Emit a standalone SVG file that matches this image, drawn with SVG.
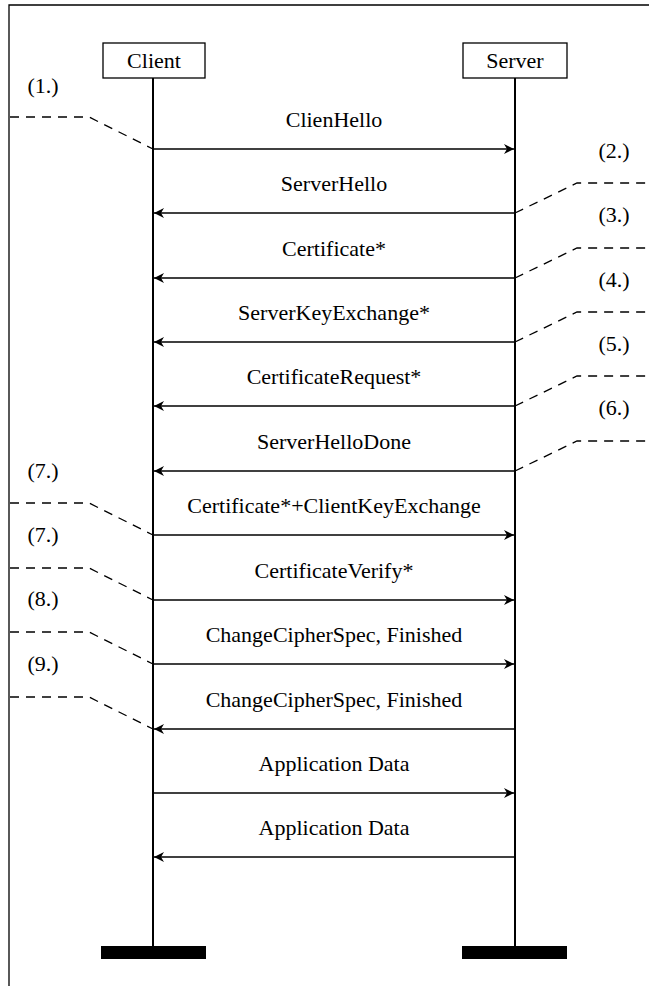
<svg xmlns="http://www.w3.org/2000/svg" width="649" height="986" viewBox="0 0 649 986">
  <style>
    text { font-family: "Liberation Serif", "DejaVu Serif", serif; font-size: 22px; fill: #000; }
    .msg { text-anchor: middle; }
    .num { text-anchor: middle; }
    .box { fill: #fff; stroke: #000; stroke-width: 1.3; }
    .life { stroke: #000; stroke-width: 2; fill: none; }
    .arrow { stroke: #000; stroke-width: 1.4; fill: none; marker-end: url(#head); }
    .lead { stroke: #000; stroke-width: 1.3; fill: none; stroke-dasharray: 9 7; }
    .frame { stroke: #000; stroke-width: 1.3; fill: none; }
  </style>
  <defs>
    <marker id="head" viewBox="0 0 10 10" refX="10" refY="5" markerWidth="10" markerHeight="10" markerUnits="userSpaceOnUse" orient="auto">
      <path d="M0,0 L10,5 L0,10 L3,5 Z" fill="#000"/>
    </marker>
  </defs>
  <rect width="649" height="986" fill="#fff"/>

  <!-- outer frame (top and left edges) -->
  <path class="frame" d="M9,986 V5 H649"/>

  <!-- participants -->
  <g id="client">
    <line class="life" x1="153" y1="78" x2="153" y2="946"/>
    <rect class="box" x="103" y="43" width="102" height="35"/>
    <text class="msg" x="154" y="68">Client</text>
    <rect x="101" y="946" width="105" height="13" fill="#000"/>
  </g>
  <g id="server">
    <line class="life" x1="515" y1="78" x2="515" y2="946"/>
    <rect class="box" x="463" y="43" width="104" height="35"/>
    <text class="msg" x="515" y="68">Server</text>
    <rect x="462" y="946" width="105" height="13" fill="#000"/>
  </g>

  <!-- messages -->
  <g id="connectors">
    <line class="arrow" x1="154" y1="149" x2="514" y2="149"/>
    <line class="arrow" x1="514" y1="213" x2="154" y2="213"/>
    <line class="arrow" x1="514" y1="278" x2="154" y2="278"/>
    <line class="arrow" x1="514" y1="342" x2="154" y2="342"/>
    <line class="arrow" x1="514" y1="406" x2="154" y2="406"/>
    <line class="arrow" x1="514" y1="471" x2="154" y2="471"/>
    <line class="arrow" x1="154" y1="535" x2="514" y2="535"/>
    <line class="arrow" x1="154" y1="600" x2="514" y2="600"/>
    <line class="arrow" x1="154" y1="664" x2="514" y2="664"/>
    <line class="arrow" x1="514" y1="729" x2="154" y2="729"/>
    <line class="arrow" x1="154" y1="793" x2="514" y2="793"/>
    <line class="arrow" x1="514" y1="857" x2="154" y2="857"/>

    <!-- dashed step leaders -->
    <path class="lead" d="M10,117 H89 L153,149"/>
    <path class="lead" d="M515,213 L577,183 H649"/>
    <path class="lead" d="M515,278 L577,248 H649"/>
    <path class="lead" d="M515,342 L577,312 H649"/>
    <path class="lead" d="M515,406 L577,376 H649"/>
    <path class="lead" d="M515,471 L577,441 H649"/>
    <path class="lead" d="M10,503 H89 L153,535"/>
    <path class="lead" d="M10,568 H89 L153,600"/>
    <path class="lead" d="M10,632 H89 L153,664"/>
    <path class="lead" d="M10,697 H89 L153,729"/>
  </g>

  <!-- message labels -->
  <g id="labels">
    <text class="msg" x="334" y="127">ClienHello</text>
    <text class="msg" x="334" y="191">ServerHello</text>
    <text class="msg" x="334" y="256">Certificate*</text>
    <text class="msg" x="334" y="320">ServerKeyExchange*</text>
    <text class="msg" x="334" y="384">CertificateRequest*</text>
    <text class="msg" x="334" y="449">ServerHelloDone</text>
    <text class="msg" x="334" y="513">Certificate*+ClientKeyExchange</text>
    <text class="msg" x="334" y="578">CertificateVerify*</text>
    <text class="msg" x="334" y="642">ChangeCipherSpec, Finished</text>
    <text class="msg" x="334" y="707">ChangeCipherSpec, Finished</text>
    <text class="msg" x="334" y="771">Application Data</text>
    <text class="msg" x="334" y="835">Application Data</text>
  </g>

  <!-- step numbers -->
  <g id="steps">
    <text class="num" x="43" y="93">(1.)</text>
    <text class="num" x="614" y="158">(2.)</text>
    <text class="num" x="614" y="222">(3.)</text>
    <text class="num" x="614" y="287">(4.)</text>
    <text class="num" x="614" y="351">(5.)</text>
    <text class="num" x="614" y="415">(6.)</text>
    <text class="num" x="43" y="478">(7.)</text>
    <text class="num" x="43" y="542">(7.)</text>
    <text class="num" x="43" y="606">(8.)</text>
    <text class="num" x="43" y="671">(9.)</text>
  </g>
</svg>
